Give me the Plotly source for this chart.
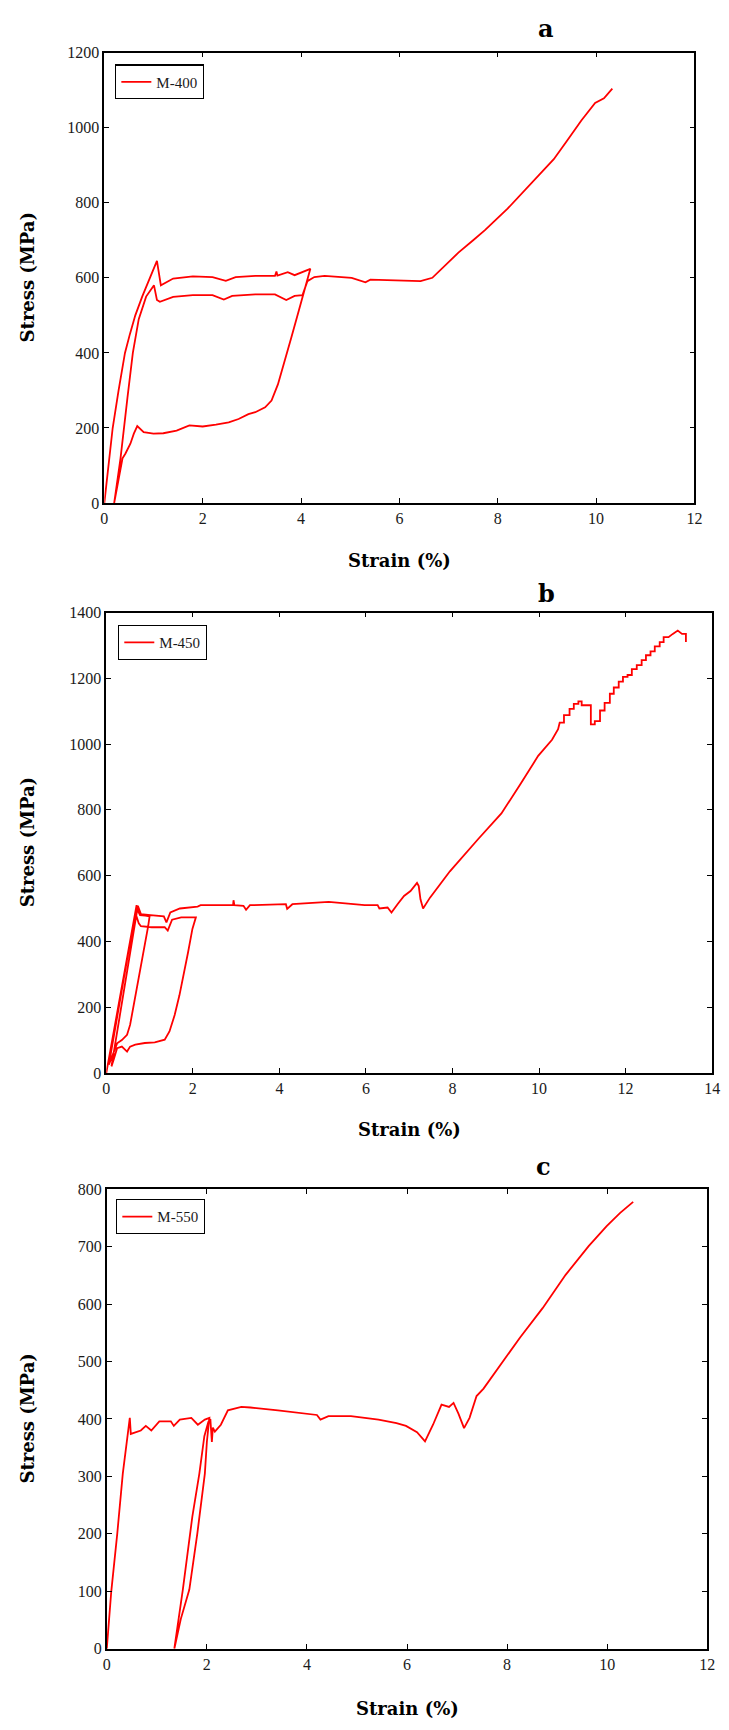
import plotly.graph_objects as go

# ---------------- data ----------------
a_strain = [0, 0.08, 0.17, 0.29, 0.42, 0.52, 0.63, 0.77, 0.93, 1.07, 1.15, 1.25, 1.4, 1.8, 2.2, 2.47, 2.67, 3.07, 3.47, 3.5, 3.52, 3.73, 3.87, 4.19,
            4.07, 3.93, 3.8, 3.67, 3.53, 3.4, 3.27, 3.07, 2.93, 2.73, 2.53, 2.27, 2.0, 1.73, 1.47, 1.2, 1.0, 0.8, 0.67, 0.6, 0.53, 0.43, 0.4, 0.37, 0.2,
            0.33, 0.47, 0.58, 0.7, 0.85, 1.01, 1.07, 1.13, 1.4, 1.8, 2.2, 2.43, 2.6, 3.07, 3.47, 3.7, 3.87, 4.03, 4.13, 4.27, 4.48, 5.03, 5.31, 5.41, 5.97, 6.43, 6.67,
            6.9, 7.2, 7.5, 7.74, 8.2, 8.67, 9.14, 9.42, 9.7, 9.98, 10.16, 10.33]
a_stress = [0, 100, 200, 300, 400, 450, 500, 550, 600, 645, 580, 588, 598, 604, 602, 592, 602, 605, 605, 617, 606, 615, 607, 624,
            565, 501, 440, 378, 316, 273, 255, 242, 237, 224, 215, 209, 204, 207, 193, 186, 185, 189, 205, 185, 158, 132, 125, 119, 0,
            120, 280, 400, 490, 550, 580, 541, 536, 549, 554, 554, 542, 552, 556, 556, 541, 552, 554, 591, 602, 605, 600, 588, 595, 593, 591, 600,
            628, 667, 700, 727, 784, 850, 916, 967, 1019, 1066, 1078, 1104]

b_strain = [0, 0.35, 0.7, 0.73, 0.78, 0.9, 1.0,
            0.97, 0.82, 0.67, 0.55, 0.48, 0.36, 0.25, 0.14, 0.06,
            0.67, 0.75, 0.8, 1.05, 1.35, 1.42, 1.52, 1.73, 2.07,
            1.99, 1.89, 1.8, 1.69, 1.58, 1.46, 1.35, 1.12, 0.89, 0.67, 0.55, 0.48, 0.36, 0.25, 0.17, 0.12,
            0.73, 0.8, 1.02, 1.33, 1.39, 1.48, 1.7, 2.11, 2.18,
            2.5, 2.93, 2.94, 2.96, 3.17, 3.23, 3.32, 4.15, 4.18, 4.3, 5.14, 5.47, 5.97, 6.27, 6.31, 6.5, 6.59, 6.73, 6.88, 7.03, 7.18, 7.22, 7.26, 7.32,
            7.48, 7.71, 7.94, 8.6, 9.13, 9.56, 9.98, 10.3, 10.44,
            10.477, 10.576, 10.576, 10.705, 10.705, 10.803, 10.803, 10.909, 10.909, 10.985, 10.985, 11.083, 11.083, 11.197, 11.197,
            11.288, 11.288, 11.409, 11.409, 11.515, 11.515, 11.636, 11.636, 11.727, 11.727, 11.841, 11.841, 11.939, 11.939, 12.045,
            12.045, 12.144, 12.144, 12.258, 12.258, 12.371, 12.371, 12.470, 12.470, 12.576, 12.576, 12.674, 12.674, 12.788, 12.788,
            12.879, 12.879, 12.992, 12.992, 13.091, 13.091, 13.205, 13.205, 13.303, 13.303, 13.394, 13.394]
b_stress = [0, 260, 510, 493, 480, 478, 476,
            448, 337, 226, 146, 116, 100, 90, 55, 25,
            488, 455, 446, 443, 443, 433, 466, 473, 473,
            438, 367, 307, 236, 176, 126, 101, 93, 91, 86, 80, 65, 80, 75, 40, 20,
            508, 483, 480, 476, 458, 488, 500, 506, 510,
            510, 510, 525, 510, 508, 496, 510, 513, 499, 513, 520, 516, 510, 510, 500, 503, 488, 513, 538, 553, 578, 568, 528, 500,
            533, 573, 613, 712, 789, 876, 964, 1013, 1045,
            1065, 1065, 1088, 1088, 1107, 1107, 1122, 1122, 1130, 1130, 1118, 1118, 1118, 1118, 1060,
            1060, 1070, 1070, 1102, 1102, 1125, 1125, 1153, 1153, 1172, 1172, 1190, 1190, 1204, 1204,
            1210, 1210, 1228, 1228, 1240, 1240, 1255, 1255, 1270, 1270, 1282, 1282, 1297, 1297, 1310,
            1310, 1325, 1325, 1325, 1335, 1335, 1345, 1345, 1335, 1335, 1335, 1310]

c_strain = [0, 0.09, 0.21, 0.32, 0.46, 0.48, 0.68, 0.78, 0.89, 1.05, 1.28, 1.34, 1.46, 1.69, 1.82, 1.96, 2.05,
            2.0, 1.96, 1.81, 1.65, 1.48, 1.35,
            1.52, 1.71, 1.85, 1.95, 2.03, 2.07, 2.1, 2.12, 2.16, 2.28, 2.42, 2.69, 2.87, 3.42, 3.97, 4.2, 4.27, 4.43, 4.88, 5.43, 5.79,
            5.98, 6.2, 6.36, 6.52, 6.69, 6.84, 6.93, 7.03, 7.14, 7.25, 7.39, 7.53, 7.98, 8.26, 8.71, 9.17, 9.63, 9.99, 10.26, 10.52]
c_stress = [0, 100, 201, 305, 402, 374, 380, 388, 380, 396, 396, 388, 399, 402, 390, 399, 402,
            360, 305, 201, 103, 52, 0,
            103, 230, 305, 370, 395, 400, 360, 385, 378, 390, 415, 421, 420, 415, 410, 407, 399, 405, 405, 399, 393,
            388, 377, 361, 390, 425, 421, 428, 409, 384, 402, 440, 453, 507, 542, 593, 651, 701, 736, 759, 778]

panel_names = ["M-400", "M-450", "M-550"]
panel_letters = ["a", "b", "c"]

# ---------------- layout geometry (pixels of 729x1730 page) ----------------
W, H = 729, 1730
def px_x(x):
    return x / W
def px_y(y):
    return 1 - y / H

panels = [
    dict(x=(102, 702), y=(45, 500), xr=[0, 12], yr=[0, 1200], dy=200, data=(a_strain, a_stress),
         legend=(113, 57), letter=(551, 21), xtitle=(402, 558)),
    dict(x=(104, 720), y=(610.5, 1075.5), xr=[0, 14], yr=[0, 1400], dy=200, data=(b_strain, b_stress),
         legend=(116, 623), letter=(552, 591), xtitle=(412, 1133)),
    dict(x=(104.5, 715), y=(1193, 1657), xr=[0, 12], yr=[0, 800], dy=100, data=(c_strain, c_stress),
         legend=(114, 1203), letter=(549, 1170), xtitle=(410, 1717)),
]

fig = go.Figure()
tickfont = dict(family="Liberation Serif", size=16, color="#1a1a1a")
annotations = []
for i, p in enumerate(panels):
    n = "" if i == 0 else str(i + 1)
    xs, ys = p["data"]
    fig.add_trace(go.Scatter(
        x=xs, y=ys, mode="lines", name=panel_names[i],
        line=dict(color="#ff0000", width=1.8),
        xaxis="x" + n, yaxis="y" + n,
        legend="legend" + n, showlegend=True,
    ))
    axcommon = dict(showgrid=False, zeroline=False, showline=True, linecolor="black", linewidth=1.6,
                    mirror="ticks", ticks="inside", ticklen=5, tickwidth=1, tickcolor="black",
                    tickfont=tickfont)
    fig.layout["xaxis" + n] = dict(domain=[px_x(p["x"][0]), px_x(p["x"][1])], range=p["xr"], dtick=2,
                                   anchor="y" + n, **axcommon)
    fig.layout["yaxis" + n] = dict(domain=[px_y(p["y"][1]), px_y(p["y"][0])], range=p["yr"], dtick=p["dy"],
                                   anchor="x" + n, **axcommon)
    fig.layout["legend" + n] = dict(x=px_x(p["legend"][0]), y=px_y(p["legend"][1]), xanchor="left", yanchor="top",
                                    bgcolor="white", bordercolor="black", borderwidth=1.2,
                                    font=dict(family="Liberation Serif", size=15, color="#1a1a1a"),
                                    itemwidth=30, tracegroupgap=0)
    annotations.append(dict(text="<b>" + panel_letters[i] + "</b>", x=px_x(p["letter"][0]), y=px_y(p["letter"][1]),
                            xref="paper", yref="paper", showarrow=False, xanchor="center", yanchor="middle",
                            font=dict(family="DejaVu Serif", size=24, color="black")))
    annotations.append(dict(text="<b>Strain (%)</b>", x=px_x(p["xtitle"][0]), y=px_y(p["xtitle"][1]),
                            xref="paper", yref="paper", showarrow=False, xanchor="center", yanchor="middle",
                            font=dict(family="DejaVu Serif", size=18, color="black")))
    ymid = (p["y"][0] + p["y"][1]) / 2
    annotations.append(dict(text="<b>Stress (MPa)</b>", x=px_x(24), y=px_y(ymid), textangle=-90,
                            xref="paper", yref="paper", showarrow=False, xanchor="center", yanchor="middle",
                            font=dict(family="DejaVu Serif", size=18, color="black")))

fig.update_layout(width=W, height=H, margin=dict(l=0, r=0, t=0, b=0),
                  paper_bgcolor="white", plot_bgcolor="white", annotations=annotations)
fig.write_html("out.html")
